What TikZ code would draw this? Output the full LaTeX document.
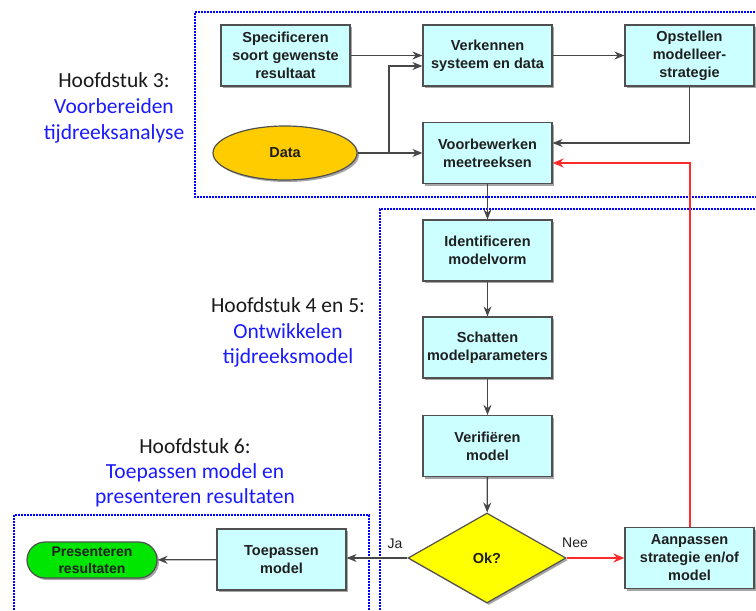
\documentclass[tikz,border=0pt]{standalone}
\usepackage{fontspec}
\setmainfont{Liberation Sans}
\newfontfamily\calibri{Carlito}
\usetikzlibrary{shapes.geometric,shadows,arrows.meta,positioning}
\definecolor{boxfill}{HTML}{CCFFFF}
\definecolor{datafill}{HTML}{FFCC00}
\definecolor{okfill}{HTML}{FFFF00}
\definecolor{presfill}{HTML}{00E600}
\definecolor{edge}{HTML}{505050}
\definecolor{lblue}{HTML}{1A1AFF}
\definecolor{lred}{HTML}{FF2A2A}
\tikzset{
  shad/.style={drop shadow={shadow xshift=2pt,shadow yshift=-2pt,opacity=0.35,fill=black}},
  boxfont/.style={font=\fontsize{14.5}{18}\selectfont\bfseries,text=black!88},
  procbox/.style={rectangle,draw=edge,line width=1.2pt,fill=boxfill,shad,
    minimum width=129pt,minimum height=61pt,inner sep=2pt,align=center,boxfont},
  conn/.style={draw=black!72,line width=1.3pt,-{Stealth[length=10pt,width=8pt]}},
  redconn/.style={draw=lred,line width=2pt,-{Stealth[length=11pt,width=9pt]}},
  chapblk/.style={anchor=base,font=\calibri\fontsize{21.5}{26}\selectfont,text=black!90},
  chapblu/.style={anchor=base,font=\calibri\fontsize{21.5}{26}\selectfont,text=lblue},
  dotbox/.style={draw=blue,line width=1.6pt,dash pattern=on 1.6pt off 1.4pt},
  yn/.style={font=\fontsize{14}{16}\selectfont,text=black!88}
}
\begin{document}
\begin{tikzpicture}[x=1pt,y=-1pt]
\useasboundingbox (0,0) rectangle (756,611);
% dotted group frames
\draw[dotbox] (770,12) -- (195,12) -- (195,197) -- (770,197);
\draw[dotbox] (770,209) -- (380,209) -- (380,625);
\draw[dotbox] (14,625) -- (14,515) -- (369,515) -- (369,625);

% chapter labels
\node[chapblk] (h3a) at (114,87) {Hoofdstuk 3:};
\node[chapblu] (h3b) at (114,113) {Voorbereiden};
\node[chapblu] (h3c) at (114,139) {tijdreeksanalyse};
\node[chapblk] (h4a) at (288,312) {Hoofdstuk 4 en 5:};
\node[chapblu] (h4b) at (288,338) {Ontwikkelen};
\node[chapblu] (h4c) at (288,363) {tijdreeksmodel};
\node[chapblk] (h6a) at (195,453) {Hoofdstuk 6:};
\node[chapblu] (h6b) at (195,478) {Toepassen model en};
\node[chapblu] (h6c) at (195,503) {presenteren resultaten};

% nodes
\node[procbox] (spec) at (285.5,55.5) {Specificeren\\soort gewenste\\resultaat};
\node[procbox] (verk) at (487.5,55.5) {Verkennen\\systeem en data};
\node[procbox] (opst) at (689.5,55.5) {Opstellen\\modelleer-\\strategie};
\node[ellipse,draw=edge,line width=1.2pt,fill=datafill,shad,minimum width=144pt,minimum height=54pt,inner sep=0pt,
  boxfont] (data) at (285,153) {Data};
\node[procbox] (voor) at (487.5,153) {Voorbewerken\\meetreeksen};
\node[procbox] (ident) at (487.5,250.5) {Identificeren\\modelvorm};
\node[procbox] (schat) at (487.5,347.5) {Schatten\\modelparameters};
\node[procbox] (verif) at (487.5,446) {Verifiëren\\model};
\node[diamond,draw=edge,line width=1.2pt,fill=okfill,shad,minimum width=158pt,minimum height=90pt,inner sep=0pt,
  boxfont] (ok) at (487,558) {Ok?};
\node[procbox] (aan) at (689.5,558) {Aanpassen\\strategie en/of\\model};
\node[procbox] (toep) at (281.5,559.5) {Toepassen\\model};
\node[rectangle,rounded corners=18pt,draw=edge,line width=1.2pt,fill=presfill,shad,minimum width=130pt,minimum height=36pt,
  inner sep=1pt,align=center,font=\fontsize{14}{16.5}\selectfont\bfseries,text=black!88] (pres) at (92,560) {Presenteren\\resultaten};

% connectors
\coordinate (br) at (389,153);
\coordinate (dv) at ([yshift=-10.5pt]verk.west);
\coordinate (vo) at ([yshift=10pt]voor.east);
\coordinate (vr) at ([yshift=-10pt]voor.east);
\draw[conn] (spec) -- (verk);
\draw[conn] (data) -- (voor);
\draw[conn] (br) |- (dv);
\draw[conn] (verk) -- (opst);
\draw[conn] (opst.south) |- (vo);
\draw[redconn] (aan.north) |- (vr);
\draw[conn] (voor) -- (ident);
\draw[conn] (ident) -- (schat);
\draw[conn] (schat) -- (verif);
\draw[conn] (verif) -- (ok);
\draw[redconn] (ok) -- (aan);
\draw[conn] (ok) -- (toep.east |- ok.west);
\draw[conn] (toep) -- (pres);
\node[yn] (ja) at (395,544) {Ja};
\node[yn] (nee) at (575,543) {Nee};
\end{tikzpicture}
\end{document}
